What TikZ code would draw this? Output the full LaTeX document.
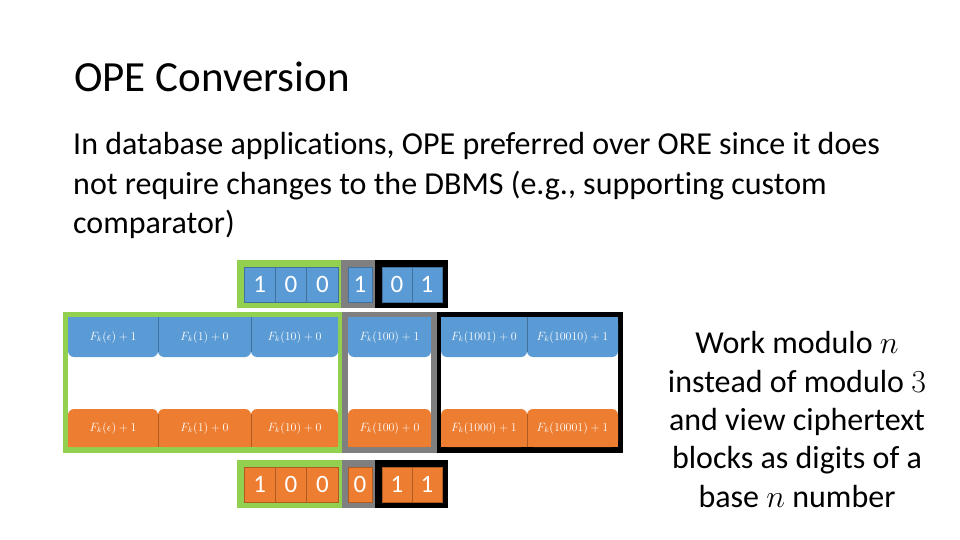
\RequirePackage{fix-cm}
\documentclass[tikz,border=0pt]{standalone}
\usepackage{fontspec}
\setmainfont{Carlito}[Ligatures={NoCommon}]
\definecolor{cblue}{HTML}{5B9BD5}
\definecolor{cbluedk}{HTML}{41719C}
\definecolor{corange}{HTML}{ED7D31}
\definecolor{corangedk}{HTML}{AE5A21}
\definecolor{cgreen}{HTML}{92D050}
\definecolor{cgrey}{HTML}{7F7F7F}
\newcommand\bcell[4]{%
  \fill[cblue,rounded corners=6pt] (#2,317) rectangle (#3,357);
  \fill[cblue] (#2,317) rectangle (#3,340);
  \node[lbl] (#1) at ({(#2+#3)/2},337) {#4};}
\newcommand\ocell[4]{%
  \fill[corange,rounded corners=6pt] (#2,409) rectangle (#3,447);
  \fill[corange] (#2,426) rectangle (#3,447);
  \node[lbl] (#1) at ({(#2+#3)/2},428) {#4};}
\newcommand\dcell[6]{% name x1 x2 y1 y2 digit ; colour via \dcol
  \path[fill=\dcol,draw=\dcoldk,line width=0.6pt] (#2,#4) rectangle (#3,#5);
  \node[digit] (#1) at ({(#2+#3)/2},{(#4+#5)/2}) {#6};}
\begin{document}
\begin{tikzpicture}[x=1pt,y=-1pt,
  titletext/.style={anchor=base west,inner sep=0,font=\fontsize{43}{50}\selectfont},
  bodytext/.style={anchor=base west,inner sep=0,font=\fontsize{32}{39}\selectfont},
  sidetext/.style={anchor=base,inner sep=0,font=\fontsize{32}{39}\selectfont},
  lbl/.style={text=white,inner sep=0,font=\fontsize{12}{14}\selectfont},
  digit/.style={text=white,inner sep=0,font=\fontsize{25}{30}\selectfont},
  sepb/.style={cbluedk,line width=0.5pt},
  sepo/.style={corangedk,line width=0.5pt}]
\useasboundingbox[fill=white] (0,0) rectangle (960,540);

\node[titletext] (title) at (74,92) {OPE Conversion};
\node[bodytext] (b1) at (73,155) {In database applications, OPE preferred over ORE since it does};
\node[bodytext] (b2) at (73,194) {not require changes to the DBMS (e.g., supporting custom};
\node[bodytext] (b3) at (73,233) {comparator)};

% main table frames
\fill[cgreen] (63,312) rectangle (342,453);
\fill[white] (68,317) rectangle (338,447);
\fill[cgrey] (342,312) rectangle (437,453);
\fill[white] (348,317) rectangle (431,447);
\fill[black] (437,312) rectangle (623,453);
\fill[white] (441,317) rectangle (618,447);

\bcell{t1}{68}{158}{$F_k(\epsilon)+1$}
\bcell{t2}{158}{251}{$F_k(1)+0$}
\bcell{t3}{251}{338}{$F_k(10)+0$}
\bcell{t4}{348}{431}{$F_k(100)+1$}
\bcell{t5}{441}{527}{$F_k(1001)+0$}
\bcell{t6}{527}{618}{$F_k(10010)+1$}
\draw[sepb] (158,317) -- (158,352) (251,317) -- (251,352) (527,317) -- (527,352);

\ocell{u1}{68}{158}{$F_k(\epsilon)+1$}
\ocell{u2}{158}{251}{$F_k(1)+0$}
\ocell{u3}{251}{338}{$F_k(10)+0$}
\ocell{u4}{348}{431}{$F_k(100)+0$}
\ocell{u5}{441}{527}{$F_k(1000)+1$}
\ocell{u6}{527}{618}{$F_k(10001)+1$}
\draw[sepo] (158,414) -- (158,447) (251,414) -- (251,447) (527,414) -- (527,447);

% top digit bar
\fill[cgreen] (237,260) rectangle (341,308);
\fill[cgrey] (341,260) rectangle (375,308);
\fill[black] (375,260) rectangle (448,308);
\def\dcol{cblue}\def\dcoldk{cbluedk}
\dcell{d1}{244}{275.3}{267}{302}{1}
\dcell{d2}{275.3}{306.7}{267}{302}{0}
\dcell{d3}{306.7}{338}{267}{302}{0}
\dcell{d4}{348}{372}{267}{302}{1}
\dcell{d5}{382}{412}{267}{302}{0}
\dcell{d6}{412}{442}{267}{302}{1}

% bottom digit bar
\fill[cgreen] (237,460) rectangle (342,508);
\fill[cgrey] (342,460) rectangle (375,508);
\fill[black] (375,460) rectangle (448,508);
\def\dcol{corange}\def\dcoldk{corangedk}
\dcell{e1}{244}{275.3}{467}{502}{1}
\dcell{e2}{275.3}{306.7}{467}{502}{0}
\dcell{e3}{306.7}{338}{467}{502}{0}
\dcell{e4}{348}{372}{467}{502}{0}
\dcell{e5}{382}{412}{467}{502}{1}
\dcell{e6}{412}{442}{467}{502}{1}

% side text
\node[sidetext] (s1) at (797,353) {Work modulo $n$};
\node[sidetext] (s2) at (797,392) {instead of modulo $3$};
\node[sidetext] (s3) at (797,430) {and view ciphertext};
\node[sidetext] (s4) at (797,468) {blocks as digits of a};
\node[sidetext] (s5) at (797,507) {base $n$ number};
\end{tikzpicture}
\end{document}
